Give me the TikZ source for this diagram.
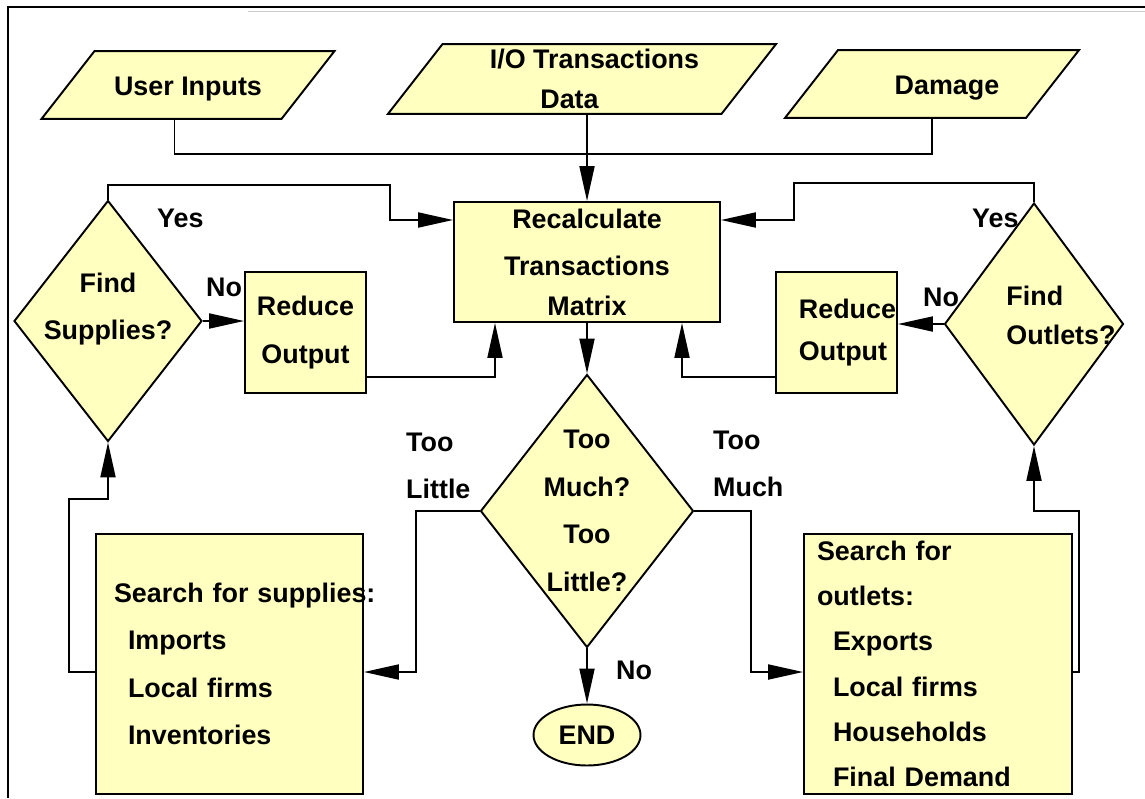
\documentclass[tikz,border=0pt]{standalone}
\usepackage{fontspec}
\setmainfont{Liberation Sans}
\usepackage{tikz}
\usetikzlibrary{
    arrows.meta,
    calc,
    shapes.geometric
}

\definecolor{boxfill}{RGB}{255,255,192}

\begin{document}
\begin{tikzpicture}[
    x=0.02cm, y=-0.02cm,
    every node/.style={font=\bfseries\fontsize{15.3}{27}\selectfont},
    box/.style={draw, line width=1.1pt, fill=boxfill, inner sep=0pt, align=center},
    inbox/.style={box, trapezium, trapezium left angle=52, trapezium right angle=128,
                  trapezium stretches body, text height=15.5pt, text depth=3.5pt,
                  inner ysep=0.344cm},
    ask/.style={box, diamond, inner sep=-1cm},
    line/.style={line width=1.1pt},
    arr/.style={line, -{Triangle[length=0.7cm, width=0.3cm]}},
    lbl/.style={align=left, anchor=west}
]
\useasboundingbox (0,0) rectangle (1145,798);

% Frame
\draw[line width=1.4pt] (8,798) -- (8,7) -- (1145,7);
\draw[gray!40, line width=0.5pt] (248,11) -- (1145,11);

% Inputs
\node[inbox, minimum width=5.86cm] (ui) at (188,85) {User Inputs};
\node[box, trapezium, trapezium left angle=52, trapezium right angle=128,
      trapezium stretches body, inner ysep=0.1cm, minimum width=7.76cm] (io) at (582,79)
    {\hspace*{0.5cm}I/O Transactions\\[-4.3pt]Data\hspace*{0.5cm}};
\node[inbox, minimum width=5.88cm] (dm) at (932,84) {\hspace*{0.6cm}Damage};

% Main box
\node[box, minimum width=5.32cm, minimum height=2.4cm] (recalc) at (587,262)
    {Recalculate\\Transactions\\[-4.4pt]Matrix};

% Left branch
\node[ask, minimum width=3.76cm, minimum height=4.82cm, text depth=17pt] (fs) at (108,321)
    {Find\\Supplies?};
\node[box, minimum width=2.42cm, minimum height=2.42cm] (rol) at (305.5,332.5)
    {Reduce\\Output};
\node[box, minimum width=5.34cm, minimum height=5.2cm, text width=4.62cm,
      inner xsep=0.36cm, align=left] (ss) at (229.5,664)
    {\mbox{Search for supplies:}\\\hspace*{0.28cm}Imports\\\hspace*{0.28cm}Local firms\\
     \hspace*{0.28cm}Inventories};

% Right branch
\node[ask, minimum width=3.58cm, minimum height=4.84cm, align=left, text depth=10pt] (fo) at (1034,324)
    {\hspace*{1.08cm}Find\\[-4.3pt]\hspace*{1.08cm}Outlets?};
\node[box, minimum width=2.42cm, minimum height=2.42cm, align=left] (ror) at (836.5,332.5)
    {\hspace*{0.44cm}Reduce\\[-2.6pt]\hspace*{0.44cm}Output};
\node[box, minimum width=5.36cm, minimum height=5.2cm, text width=4.84cm,
      inner xsep=0.26cm, align=left, font=\bfseries\fontsize{15.3}{25.8}\selectfont] (so) at (938,664)
    {Search for\\outlets:\\\hspace*{0.32cm}Exports\\\hspace*{0.32cm}Local firms\\
     \hspace*{0.32cm}Households\\\hspace*{0.32cm}Final Demand};

% Test and end
\node[ask, minimum width=4.26cm, minimum height=5.46cm] (tm) at (587,511)
    {Too\\Much?\\Too\\Little?};
\node[box, ellipse, minimum width=2.14cm, minimum height=1.22cm] (endn) at (587,735) {END};

% Input lines
\draw[line] ($(ui.center|-ui.south)+(-13.5,0)$) |- ($(dm.center|-dm.south)+(0,35)$)
    -- (dm.center|-dm.south);
\draw[arr] (io.south -| recalc.north) -- (recalc.north);

% Yes loops
\draw[arr] (fs.north) -- ++(0,-15) -| ($(recalc.west)+(-63,-42)$) -- ($(recalc.west)+(0,-42)$);
\draw[arr] (fo.north) -- ++(0,-19) -| ($(recalc.east)+(73,-42)$) -- ($(recalc.east)+(0,-42)$);

% No branches
\draw[arr] (fs.east) -- (fs.east -| rol.west);
\draw[arr] (fo.west) -- (fo.west -| ror.east);
\draw[arr] ($(rol.east)+(0,44.5)$) -| ($(recalc.south)+(-92,0)$);
\draw[arr] ($(ror.west)+(0,44.5)$) -| ($(recalc.south)+(95,0)$);

% Test
\draw[arr] (recalc.south) -- (tm.north);
\draw[arr] (tm.west) -- ++(-64,0) |- ($(ss.east)+(0,8)$);
\draw[arr] (tm.east) -- ++(57,0) |- ($(so.west)+(0,8)$);
\draw[arr] (tm.south) -- (endn.north);

% Searches back up
\draw[arr] ($(ss.west)+(0,8)$) -- ++(-26,0) |- ($(fs.south)+(0,57)$) -- (fs.south);
\draw[arr] ($(so.east)+(0,8)$) -- ++(6,0) |- ($(fo.south)+(0,65)$) -- (fo.south);

% Labels
\node[lbl] at (151,218) {Yes};
\node[lbl] at (200,287) {No};
\node[lbl] at (966,218) {Yes};
\node[lbl] at (917,297) {No};
\node[lbl] at (400,466) {Too\\Little};
\node[lbl] at (707,464) {Too\\Much};
\node[lbl] at (610,670) {No};

\end{tikzpicture}
\end{document}
